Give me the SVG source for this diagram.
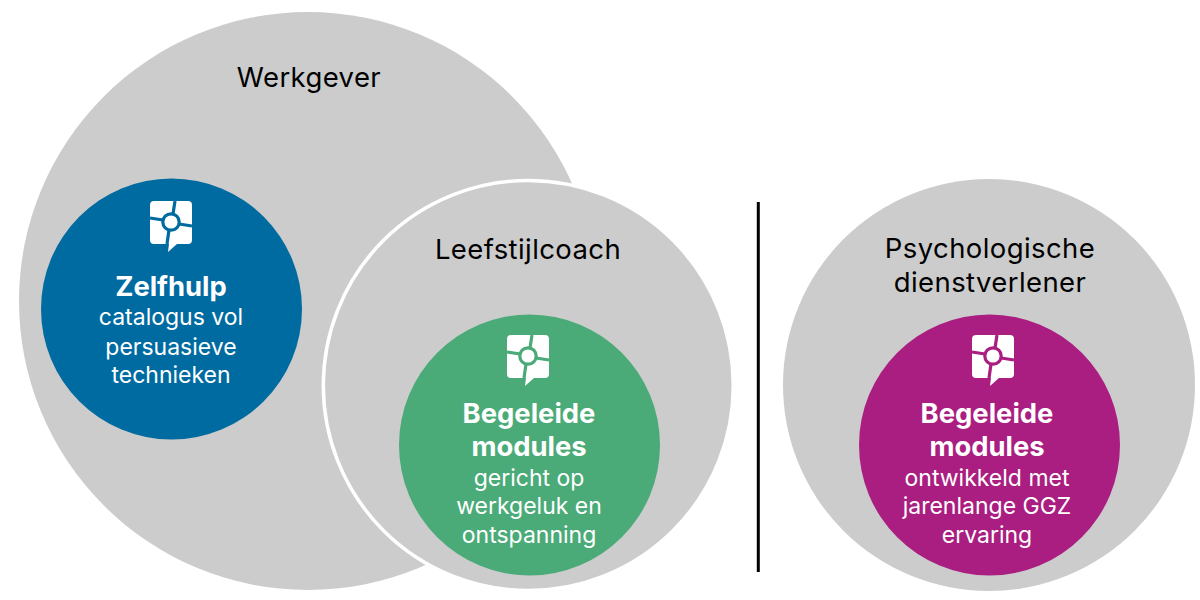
<svg xmlns="http://www.w3.org/2000/svg" width="1200" height="600" viewBox="0 0 1200 600">
<style>
text{font-family:Inter,"Noto Sans",sans-serif;text-anchor:middle}
.h{font-size:27.500px;letter-spacing:.4px;fill:#000}
.b{font-size:27.400px;font-weight:700;fill:#fff}
.t{font-size:23px;fill:#fff}
.g{fill:#cccccc}
</style>
<defs>
<g id="icon">
<path fill="#fff" d="M-17 -21H17Q21 -21 21 -17V18Q21 22 17 22H6L-3 30L-2 22H-17Q-21 22 -21 18V-17Q-21 -21 -17 -21Z"/>
<g fill="none" stroke="var(--c)" stroke-width="3.2"><path d="M2 -8L4 -21M8 2L21 4M-2 8L-4 22M-8 -2L-21 -4"/><circle cx="0" cy="0" r="8.2"/></g>
</g>
</defs>
<g id="werkgever"><circle class="g" cx="308" cy="301" r="289"/><text class="h" x="309" y="87">Werkgever</text></g>
<g id="zelfhulp"><circle cx="171.500" cy="309" r="130.500" fill="#006ba1"/><use href="#icon" x="171" y="222" style="--c:#006ba1"/>
<text class="b" x="171" y="296">Zelfhulp</text><text class="t" x="171" y="325">catalogus vol</text><text class="t" x="171" y="355">persuasieve</text><text class="t" x="171" y="383">technieken</text></g>
<g id="leefstijlcoach"><circle class="g" cx="528.300" cy="385.500" r="205" stroke="#fff" stroke-width="3.500"/><text class="h" x="528" y="259">Leefstijlcoach</text></g>
<g id="begeleid-groen"><circle cx="529.500" cy="445" r="130.500" fill="#4aab78"/><use href="#icon" x="528" y="356" style="--c:#4aab78"/>
<text class="b" x="529" y="423">Begeleide</text><text class="b" x="529" y="456">modules</text><text class="t" x="529" y="486">gericht op</text><text class="t" x="529" y="514">werkgeluk en</text><text class="t" x="529" y="543">ontspanning</text></g>
<g id="connectors"><path d="M758.300 202V572" stroke="#000" stroke-width="3" fill="none"/></g>
<g id="psychologische"><circle class="g" cx="989" cy="385" r="206"/><text class="h" x="990" y="258">Psychologische</text><text class="h" x="990" y="292">dienstverlener</text></g>
<g id="begeleid-paars"><circle cx="989.500" cy="445" r="130.500" fill="#a91e80"/><use href="#icon" x="993" y="356" style="--c:#a91e80"/>
<text class="b" x="987" y="423">Begeleide</text><text class="b" x="987" y="456">modules</text><text class="t" x="987" y="486">ontwikkeld met</text><text class="t" x="987" y="514">jarenlange GGZ</text><text class="t" x="987" y="543">ervaring</text></g>
</svg>
